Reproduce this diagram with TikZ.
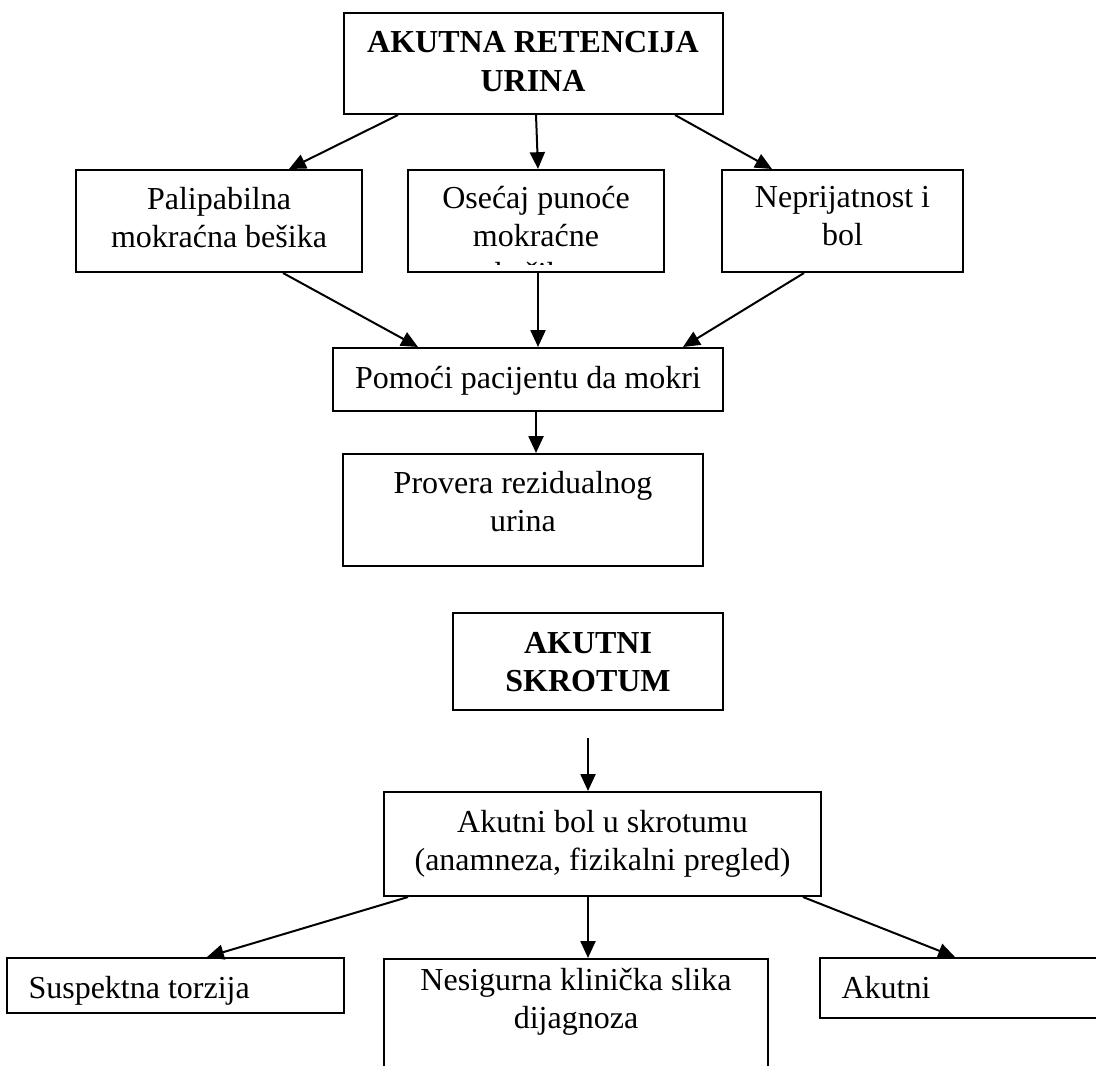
\documentclass[tikz,border=0pt]{standalone}
\usepackage{fontspec}
\setmainfont{Liberation Serif}
\usetikzlibrary{arrows.meta,fit}
% stacked, centred lines whose first baseline sits on the node's base
\newcommand\stack[1]{\begin{tabular}[t]{@{}c@{}}#1\end{tabular}}
\renewcommand\arraystretch{1}
\begin{document}
\begin{tikzpicture}[x=0.375pt,y=-0.375pt,
  box/.style={draw, line width=0.75pt, inner sep=0pt, fit={#1}},
  txt/.style={anchor=base, inner sep=0pt, font=\fontsize{12}{14.25}\selectfont},
  lefttxt/.style={txt, anchor=base west},
  headtxt/.style={anchor=base, inner sep=0pt, font=\fontsize{12}{14.6}\selectfont\bfseries},
  arr/.style={-{Triangle[length=6.3pt,width=5.6pt]}, line width=0.75pt}]
\useasboundingbox (0,0) rectangle (1096,1065);
\fill[white] (0,0) rectangle (1096,1065);
\clip (0,0) rectangle (1096,1065);

% ---------- upper chart ----------
\node[box={(344,13)(723,114)}] (top) {};
\node[headtxt] (top-t) at (533,53) {\stack{AKUTNA RETENCIJA\\URINA}};

\node[box={(76,170)(362,272)}] (pal) {};
\node[txt] (pal-t) at (219,210) {\stack{Palipabilna\\mokraćna bešika}};

\node[box={(408,170)(664,272)}] (ose) {};
\node[txt] (ose-t) at (536,209) {\stack{Osećaj punoće\\mokraćne}};
\begin{scope}
  \clip (410,172) rectangle (662,264.5);
  \node[txt] (ose-t3) at (536,285) {bešike};
\end{scope}

\node[box={(722,170)(963,272)}] (nep) {};
\node[txt] (nep-t) at (842.5,208) {\stack{Neprijatnost i\\bol}};

\node[box={(333,348)(723,411)}] (pom) {};
\node[txt] (pom-t) at (528,388) {Pomoći pacijentu da mokri};

\node[box={(343,454)(703,566)}] (pro) {};
\node[txt] (pro-t) at (523,493) {\stack{Provera rezidualnog\\urina}};

\draw[arr] (top.south -| 398,0) -- (pal.north -| 289,0);
\draw[arr] (top.south -| 536,0) -- (ose.north -| 538,0);
\draw[arr] (top.south -| 675,0) -- (nep.north -| 772,0);
\draw[arr] (pal.south -| 283,0) -- (pom.north -| 418,0);
\draw[arr] (ose.south -| 538,0) -- (pom.north -| 538,0);
\draw[arr] (nep.south -| 804,0) -- (pom.north -| 683,0);
\draw[arr] (pom.south -| 536,0) -- (pro.north -| 536,0);

% ---------- lower chart ----------
\node[box={(453,613)(723,710)}] (skr) {};
\node[headtxt] (skr-t) at (588,653) {\stack{AKUTNI\\SKROTUM}};

\node[box={(384,792)(821,896)}] (bol) {};
\node[txt] (bol-t) at (602.5,832) {\stack{Akutni bol u skrotumu\\(anamneza, fizikalni pregled)}};

\node[box={(7,958)(344,1013)}] (sus) {};
\node[lefttxt] (sus-t) at (28,998) {Suspektna torzija};

\node[box={(384,959)(768,1100)}] (nes) {};
\node[txt] (nes-t) at (576,990) {\stack{Nesigurna klinička slika\\dijagnoza}};

\node[box={(820,958)(1130,1018)}] (aku) {};
\node[lefttxt] (aku-t) at (841,998) {Akutni};

\coordinate (skr-out) at (588,738);
\draw[arr] (skr-out) -- (bol.north -| skr-out);
\draw[arr] (bol.south -| 408,0) -- (sus.north -| 207,0);
\draw[arr] (bol.south -| 588,0) -- (nes.north -| 588,0);
\draw[arr] (bol.south -| 803,0) -- (aku.north -| 955,0);
\end{tikzpicture}
\end{document}
